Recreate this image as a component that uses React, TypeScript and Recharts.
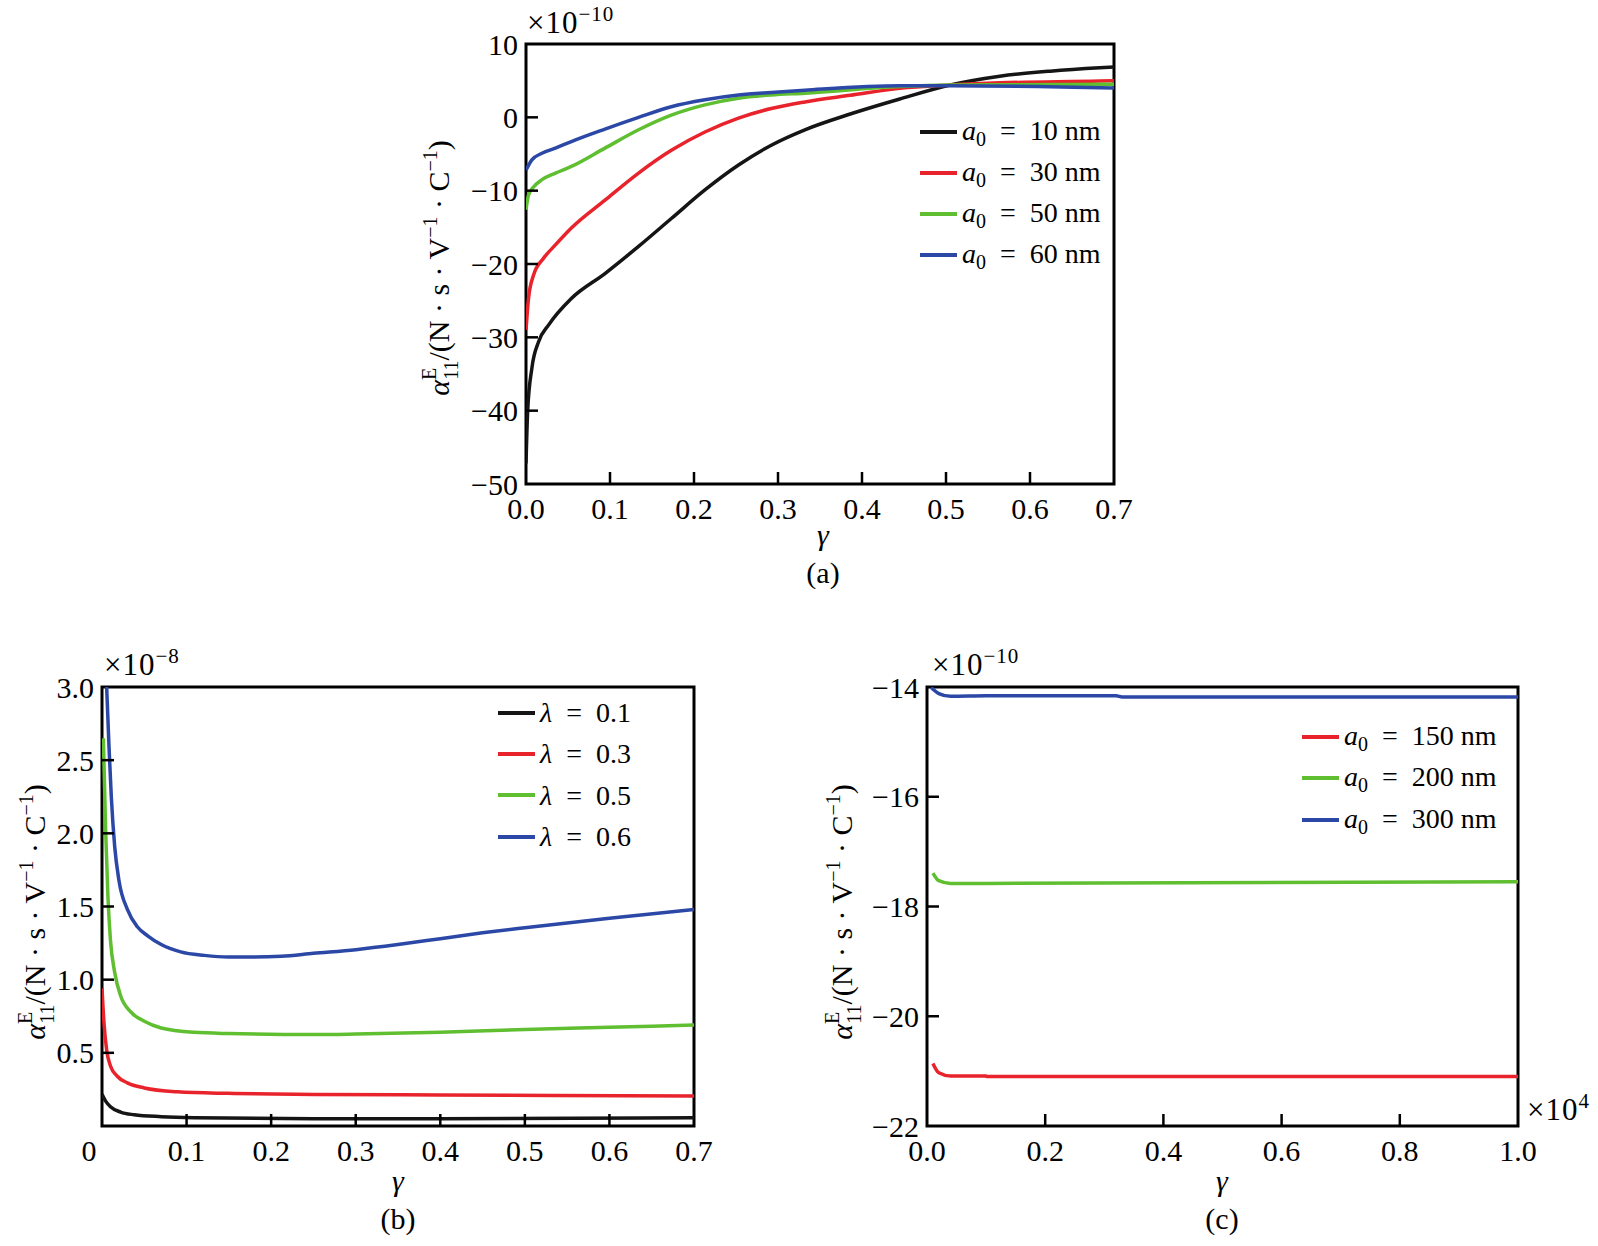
import React from "react";
import { LineChart, Line, XAxis, YAxis, ReferenceArea, Legend } from "recharts";

const FONT = '"Liberation Serif", "Times New Roman", serif';
const BLACK = "#151515";
const RED = "#e8232b";
const GREEN = "#5fbf30";
const BLUE = "#2c48a6";

// ---- panel (a): alpha vs gamma for several a0 ----
const gammaA10 = [0, 0.002, 0.007, 0.015, 0.027, 0.054, 0.094, 0.134, 0.173, 0.213, 0.253, 0.292, 0.332, 0.386, 0.445, 0.505, 0.564, 0.624, 0.683, 0.7];
const alphaA10 = [-47.2, -40, -34.2, -30.6, -28.3, -24.7, -21.3, -17.6, -13.8, -9.9, -6.5, -3.8, -1.7, 0.45, 2.5, 4.4, 5.6, 6.3, 6.75, 6.85];
const gammaA30 = [0, 0.003, 0.009, 0.021, 0.035, 0.054, 0.094, 0.134, 0.173, 0.213, 0.253, 0.292, 0.332, 0.386, 0.445, 0.505, 0.564, 0.683, 0.7];
const alphaA30 = [-29, -24.7, -21.5, -19.2, -17.4, -15.1, -11.3, -7.6, -4.5, -2.0, -0.1, 1.2, 2.1, 3.0, 3.95, 4.4, 4.7, 4.95, 5.0];
const gammaA50 = [0, 0.003, 0.009, 0.019, 0.035, 0.054, 0.094, 0.134, 0.173, 0.213, 0.253, 0.292, 0.332, 0.445, 0.505, 0.7];
const alphaA50 = [-12.6, -10.6, -9.5, -8.5, -7.6, -6.7, -4.2, -1.7, 0.3, 1.7, 2.6, 3.05, 3.3, 4.2, 4.4, 4.5];
const gammaA60 = [0, 0.007, 0.019, 0.035, 0.054, 0.094, 0.134, 0.173, 0.213, 0.253, 0.292, 0.332, 0.445, 0.505, 0.7];
const alphaA60 = [-7.2, -5.8, -4.9, -4.2, -3.3, -1.6, 0.0, 1.45, 2.4, 3.05, 3.4, 3.7, 4.3, 4.3, 4.0];
const xTicksA = [0, 0.1, 0.2, 0.3, 0.4, 0.5, 0.6, 0.7];
const yTicksA = [-50, -40, -30, -20, -10, 0, 10];

// ---- panel (b): alpha vs gamma for several lambda ----
const gammaB1 = [0, 0.0043, 0.01, 0.022, 0.038, 0.07, 0.109, 0.251, 0.4, 0.7];
const alphaB1 = [0.216, 0.17, 0.132, 0.095, 0.077, 0.064, 0.057, 0.05, 0.05, 0.057];
const gammaB3 = [0, 0.0024, 0.0055, 0.01, 0.018, 0.03, 0.05, 0.089, 0.149, 0.251, 0.4, 0.7];
const alphaB3 = [0.94, 0.7, 0.52, 0.41, 0.34, 0.295, 0.26, 0.234, 0.223, 0.216, 0.212, 0.205];
const gammaB5 = [0.0016, 0.0043, 0.007, 0.01, 0.015, 0.022, 0.034, 0.05, 0.07, 0.109, 0.149, 0.251, 0.3, 0.4, 0.5, 0.6, 0.7];
const alphaB5 = [2.65, 2.02, 1.57, 1.27, 1.05, 0.89, 0.78, 0.716, 0.67, 0.64, 0.632, 0.625, 0.628, 0.64, 0.66, 0.675, 0.69];
const gammaB6 = [0.0055, 0.0083, 0.011, 0.015, 0.02, 0.03, 0.042, 0.054, 0.07, 0.093, 0.121, 0.149, 0.18, 0.212, 0.25, 0.3, 0.35, 0.4, 0.45, 0.5, 0.6, 0.7];
const alphaB6 = [3.0, 2.59, 2.25, 1.91, 1.68, 1.48, 1.36, 1.3, 1.24, 1.19, 1.166, 1.155, 1.155, 1.16, 1.18, 1.205, 1.24, 1.28, 1.32, 1.355, 1.42, 1.48];
const xTicksB = [0, 0.1, 0.2, 0.3, 0.4, 0.5, 0.6, 0.7];
const yTicksB = [0.5, 1.0, 1.5, 2.0, 2.5, 3.0];

// ---- panel (c): alpha vs gamma (x1e4) for large a0 ----
const gammaC150 = [0.01, 0.02, 0.04, 0.1, 0.101, 1.0];
const alphaC150 = [-20.86, -21.03, -21.09, -21.09, -21.1, -21.1];
const gammaC200 = [0.01, 0.02, 0.04, 0.1, 1.0];
const alphaC200 = [-17.39, -17.53, -17.58, -17.58, -17.55];
const gammaC300 = [0.007, 0.02, 0.04, 0.1, 0.32, 0.33, 1.0];
const alphaC300 = [-14.01, -14.12, -14.17, -14.16, -14.16, -14.18, -14.18];
const xTicksC = [0, 0.2, 0.4, 0.6, 0.8, 1.0];
const yTicksC = [-22, -20, -18, -16, -14];

const zip = (xs: number[], ys: number[]) => xs.map((x, i) => ({ x, y: ys[i] }));
const minus = (v: number) => (v < 0 ? "\u2212" : "");
const fmt1 = (v: number) => minus(v) + Math.abs(v).toFixed(1);
const fmt0 = (v: number) => minus(v) + Math.abs(v).toFixed(0);

const A0 = (n: string) => (
  <>
    <i>a</i>
    <span style={{ fontSize: 20, position: "relative", top: 6 }}>0</span>
    {"\u2002=\u2002" + n + " nm"}
  </>
);
const LAM = (n: string) => (
  <>
    <i>λ</i>
    {"\u2002=\u2002" + n}
  </>
);

type Series = { key: string; color: string; data: { x: number; y: number }[]; label: React.ReactNode };

type PanelProps = {
  box: { left: number; top: number; width: number; height: number };
  plot: { l: number; t: number; r: number; b: number };
  xDomain: [number, number];
  yDomain: [number, number];
  xTicks: number[];
  yTicks: number[];
  fmtX: (v: number) => string;
  fmtY: (v: number) => string;
  series: Series[];
  legend: { left: number; top: number; rowH: number };
};

function Panel({ box, plot, xDomain, yDomain, xTicks, yTicks, fmtX, fmtY, series, legend }: PanelProps) {
  const yW = 60;
  const xH = 50;
  const margin = {
    left: plot.l - box.left - yW,
    top: plot.t - box.top,
    right: box.left + box.width - plot.r,
    bottom: box.top + box.height - plot.b - xH,
  };
  const axisX = plot.l - box.left;
  const axisY = plot.b - box.top;

  const yTick = (p: any) => {
    const v = p.payload.value;
    const inner = v !== yDomain[0] && v !== yDomain[1];
    return (
      <g>
        {inner && <line x1={axisX} x2={axisX + 12} y1={p.y} y2={p.y} stroke="#000" strokeWidth={2.5} />}
        <text x={axisX - 8} y={p.y} textAnchor="end" dominantBaseline="central" fontFamily={FONT} fontSize={30} fill="#000">
          {fmtY(v)}
        </text>
      </g>
    );
  };
  const xTick = (p: any) => {
    const v = p.payload.value;
    const inner = v !== xDomain[0] && v !== xDomain[1];
    const label = fmtX(v);
    const dx = label === "0" ? -13 : 0;
    return (
      <g>
        {inner && <line x1={p.x} x2={p.x} y1={axisY} y2={axisY - 12} stroke="#000" strokeWidth={2.5} />}
        <text x={p.x + dx} y={axisY + 35} textAnchor="middle" fontFamily={FONT} fontSize={30} fill="#000">
          {label}
        </text>
      </g>
    );
  };

  const legendContent = () => (
    <div style={{ fontFamily: FONT, fontSize: 28, color: "#000" }}>
      {series.map((s) => (
        <div key={s.key} style={{ display: "flex", alignItems: "center", height: legend.rowH, whiteSpace: "nowrap" }}>
          <svg width={37} height={8} style={{ display: "block" }}>
            <line x1={0} x2={37} y1={4} y2={4} stroke={s.color} strokeWidth={4} />
          </svg>
          <span style={{ marginLeft: 5, lineHeight: legend.rowH + "px" }}>{s.label}</span>
        </div>
      ))}
    </div>
  );

  return (
    <div style={{ position: "absolute", left: box.left, top: box.top, width: box.width, height: box.height }}>
      <LineChart width={box.width} height={box.height} margin={margin}>
        <XAxis
          type="number"
          dataKey="x"
          domain={xDomain}
          ticks={xTicks}
          interval={0}
          height={xH}
          tickLine={false}
          axisLine={false}
          tick={xTick}
          allowDataOverflow
        />
        <YAxis
          type="number"
          domain={yDomain}
          ticks={yTicks}
          interval={0}
          width={yW}
          tickLine={false}
          axisLine={false}
          tick={yTick}
          allowDataOverflow
        />
        {series.map((s) => (
          <Line
            key={s.key}
            data={s.data}
            dataKey="y"
            type="monotone"
            stroke={s.color}
            strokeWidth={3.5}
            dot={false}
            activeDot={false}
            isAnimationActive={false}
          />
        ))}
        <ReferenceArea
          x1={xDomain[0]}
          x2={xDomain[1]}
          y1={yDomain[0]}
          y2={yDomain[1]}
          fill="none"
          stroke="#000"
          strokeWidth={3}
          strokeOpacity={1}
        />
        <Legend
          layout="vertical"
          align="center"
          verticalAlign="middle"
          content={legendContent}
          wrapperStyle={{ left: legend.left - box.left, top: legend.top - box.top, width: 230, height: "auto" }}
        />
      </LineChart>
    </div>
  );
}

function YLabel({ cx, cy }: { cx: number; cy: number }) {
  return (
    <text transform={`rotate(-90 ${cx} ${cy})`} x={cx} y={cy} textAnchor="middle" fontFamily={FONT} fontSize={30} fill="#000">
      <tspan fontStyle="italic">α</tspan>
      <tspan fontSize={20} dy={-13}>E</tspan>
      <tspan fontSize={20} dx={-12} dy={22}>11</tspan>
      <tspan dy={-9}>{"/(N · s · V"}</tspan>
      <tspan fontSize={20} dy={-12}>{"\u22121"}</tspan>
      <tspan dy={12}>{" · C"}</tspan>
      <tspan fontSize={20} dy={-12}>{"\u22121"}</tspan>
      <tspan dy={12}>)</tspan>
    </text>
  );
}

function Times({ x, y, exp }: { x: number; y: number; exp: string }) {
  return (
    <text x={x} y={y} fontFamily={FONT} fontSize={31} letterSpacing={1} fill="#000">
      ×10
      <tspan fontSize={21} dy={-12}>{exp}</tspan>
    </text>
  );
}

function Caption({ x, y, text, italic }: { x: number; y: number; text: string; italic?: boolean }) {
  return (
    <text x={x} y={y} textAnchor="middle" fontFamily={FONT} fontSize={30} fontStyle={italic ? "italic" : "normal"} fill="#000">
      {text}
    </text>
  );
}

export default function App() {
  const seriesA: Series[] = [
    { key: "a10", color: BLACK, data: zip(gammaA10, alphaA10), label: A0("10") },
    { key: "a30", color: RED, data: zip(gammaA30, alphaA30), label: A0("30") },
    { key: "a50", color: GREEN, data: zip(gammaA50, alphaA50), label: A0("50") },
    { key: "a60", color: BLUE, data: zip(gammaA60, alphaA60), label: A0("60") },
  ];
  const seriesB: Series[] = [
    { key: "l1", color: BLACK, data: zip(gammaB1, alphaB1), label: LAM("0.1") },
    { key: "l3", color: RED, data: zip(gammaB3, alphaB3), label: LAM("0.3") },
    { key: "l5", color: GREEN, data: zip(gammaB5, alphaB5), label: LAM("0.5") },
    { key: "l6", color: BLUE, data: zip(gammaB6, alphaB6), label: LAM("0.6") },
  ];
  const seriesC: Series[] = [
    { key: "c150", color: RED, data: zip(gammaC150, alphaC150), label: A0("150") },
    { key: "c200", color: GREEN, data: zip(gammaC200, alphaC200), label: A0("200") },
    { key: "c300", color: BLUE, data: zip(gammaC300, alphaC300), label: A0("300") },
  ];

  return (
    <div style={{ position: "absolute", left: 0, top: 0, width: 1598, height: 1246, background: "#fff", overflow: "hidden" }}>
      <Panel
        box={{ left: 400, top: 0, width: 760, height: 600 }}
        plot={{ l: 526, t: 44, r: 1114, b: 484 }}
        xDomain={[0, 0.7]}
        yDomain={[-50, 10]}
        xTicks={xTicksA}
        yTicks={yTicksA}
        fmtX={fmt1}
        fmtY={fmt0}
        series={seriesA}
        legend={{ left: 920, top: 111, rowH: 41 }}
      />
      <Panel
        box={{ left: 0, top: 640, width: 760, height: 560 }}
        plot={{ l: 102, t: 687, r: 694, b: 1126 }}
        xDomain={[0, 0.7]}
        yDomain={[0, 3]}
        xTicks={xTicksB}
        yTicks={yTicksB}
        fmtX={(v) => (v === 0 ? "0" : v.toFixed(1))}
        fmtY={fmt1}
        series={seriesB}
        legend={{ left: 498, top: 692, rowH: 41.3 }}
      />
      <Panel
        box={{ left: 800, top: 640, width: 790, height: 560 }}
        plot={{ l: 927, t: 687, r: 1518, b: 1126 }}
        xDomain={[0, 1]}
        yDomain={[-22, -14]}
        xTicks={xTicksC}
        yTicks={yTicksC}
        fmtX={fmt1}
        fmtY={fmt0}
        series={seriesC}
        legend={{ left: 1302, top: 716, rowH: 41.5 }}
      />
      <svg width={1598} height={1246} style={{ position: "absolute", left: 0, top: 0, pointerEvents: "none" }}>
        <Times x={527} y={33} exp={"\u221210"} />
        <Caption x={823} y={545} text="γ" italic />
        <Caption x={823} y={583} text="(a)" />
        <YLabel cx={449} cy={268} />

        <Times x={104} y={675} exp={"\u22128"} />
        <Caption x={398} y={1191} text="γ" italic />
        <Caption x={398} y={1229} text="(b)" />
        <YLabel cx={45} cy={912} />

        <Times x={932} y={675} exp={"\u221210"} />
        <Times x={1527} y={1120} exp="4" />
        <Caption x={1222} y={1191} text="γ" italic />
        <Caption x={1222} y={1229} text="(c)" />
        <YLabel cx={852} cy={912} />
      </svg>
    </div>
  );
}
